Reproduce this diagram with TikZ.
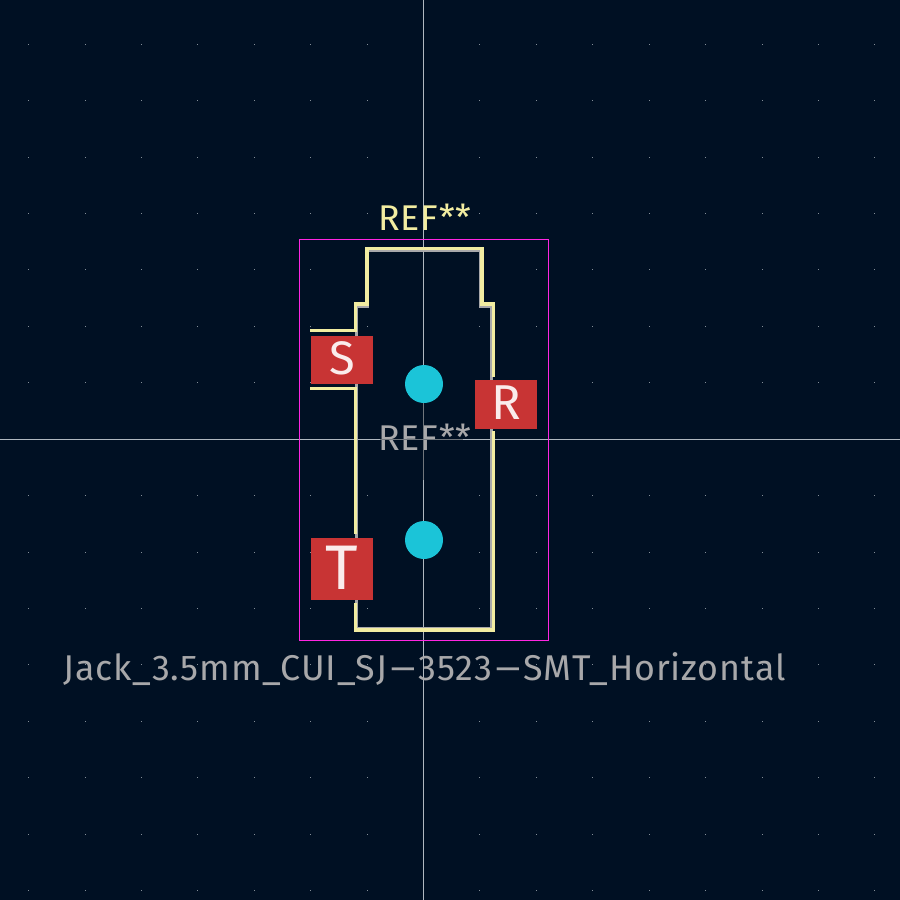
\documentclass[tikz,border=0pt]{standalone}
\usepackage{fontspec}
\newfontfamily\kifont[LetterSpace=2.4]{Fira Sans}
\newfontfamily\padfont{Fira Sans}
\newcommand{\longdash}{\scalebox{2.2}[1]{-}}
\definecolor{boardbg}{RGB}{0,16,35}
\definecolor{griddot}{RGB}{132,142,152}
\definecolor{crossline}{RGB}{176,184,192}
\definecolor{crossdim}{RGB}{112,118,124}
\definecolor{silkcol}{RGB}{242,237,161}
\definecolor{fabcol}{RGB}{168,168,170}
\definecolor{yardcol}{RGB}{255,38,226}
\definecolor{padcol}{RGB}{200,52,52}
\definecolor{padtext}{RGB}{250,236,236}
\definecolor{holecol}{RGB}{27,196,216}
\tikzset{
  padbox/.style={fill=padcol,text=padtext,inner sep=0pt,text depth=3pt,font=\padfont},
  holedot/.style={circle,fill=holecol,minimum size=38pt,inner sep=0pt},
  kitext/.style={anchor=base,inner sep=0pt,font=\kifont\fontsize{35.8}{36}\selectfont},
  silkline/.style={silkcol,line width=3.4pt,line cap=butt,line join=miter},
}
\begin{document}
\begin{tikzpicture}[x=1pt,y=-1pt]
  \useasboundingbox (0,0) rectangle (900,900);
  \fill[boardbg] (0,0) rectangle (900,900);
  % grid dots
  \foreach \i in {0,...,15} {
    \foreach \j in {0,...,15} {
      \fill[griddot] ({28.1+56.42*\i},{43.8+56.42*\j}) rectangle +(1,1);
    }
  }
  % crosshair
  \draw[crossline,line width=1pt] (423.4,0) -- (423.4,900);
  \draw[crossline,line width=1pt] (0,439.4) -- (900,439.4);
  % courtyard
  \draw[yardcol,line width=1pt] (299.5,239.5) rectangle (548.5,640.5);
  % fab outline
  \draw[fabcol,line width=2.4pt] (356.5,628.3) -- (491.3,628.3) -- (491.3,307) -- (480,307)
    -- (480,251.2) -- (367.7,251.2) -- (367.7,307) -- (356.5,307) -- cycle;
  % silkscreen
  \draw[silkline] (310,330.3) -- (355.7,330.3) -- (355.7,304) -- (366.8,304) -- (366.8,248.7)
    -- (482,248.7) -- (482,304) -- (493.3,304) -- (493.3,376.7);
  \draw[silkline] (310,388.3) -- (355.7,388.3) -- (355.7,534);
  \draw[silkline] (355.7,603) -- (355.7,630) -- (493.3,630) -- (493.3,431);
  % holes
  \node[holedot] (hole1) at (424,384) {};
  \node[holedot] (hole2) at (424,540) {};
  % pads
  \node[padbox,minimum width=62pt,minimum height=48pt,font=\padfont\fontsize{47}{47}\selectfont] (padS) at (342,360) {S};
  \node[padbox,minimum width=62pt,minimum height=49pt,font=\padfont\fontsize{49}{49}\selectfont] (padR) at (506,404.5) {R};
  \node[padbox,minimum width=62pt,minimum height=62pt,font=\padfont\fontsize{63}{63}\selectfont] (padT) at (342,569) {T};
  % texts
  \node[kitext,text=silkcol] (refTop) at (425,230.7) {REF**};
  \node[kitext,text=fabcol] (refMid) at (425,450.7) {REF**};
  \node[kitext,text=fabcol] (partName) at (424.5,680.7) {Jack\_3.5mm\_CUI\_SJ\longdash3523\longdash SMT\_Horizontal};
  % crosshair under the centre text
  \draw[crossdim,line width=1pt] (423.4,403) -- (423.4,480);
  \draw[crossdim,line width=1pt] (380,439.4) -- (463,439.4);
\end{tikzpicture}
\end{document}
